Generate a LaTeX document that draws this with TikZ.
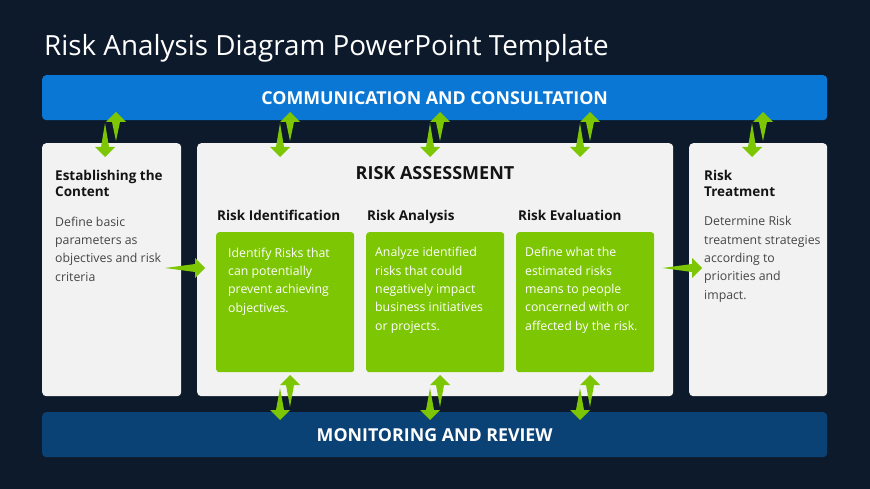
\documentclass[tikz,border=0pt]{standalone}
\usepackage{fontspec}
\setmainfont{Open Sans}
\usetikzlibrary{positioning, calc}

\definecolor{slidebg}{HTML}{0D1A2B}
\definecolor{commblue}{HTML}{0A77D5}
\definecolor{monblue}{HTML}{0A4275}
\definecolor{panelgray}{HTML}{F2F2F2}
\definecolor{riskgreen}{HTML}{7DC603}
\definecolor{headdark}{HTML}{141414}
\definecolor{bodygray}{HTML}{454545}

% tapered green arrow from tail (#1) to tip (#2)
\newcommand{\greenarrow}[2]{%
  \path ($(#2)!10pt!(#1)$) coordinate (hb);
  \fill[riskgreen] (#1) -- ($(hb)!4pt!90:(#2)$) -- ($(hb)!10pt!90:(#2)$) -- (#2)
    -- ($(hb)!10pt!-90:(#2)$) -- ($(hb)!4pt!-90:(#2)$) -- cycle;}

\tikzset{
  band/.style={rounded corners=4pt, anchor=north west, minimum width=785pt, minimum height=45pt,
    text=white, font=\bfseries\fontsize{17.8}{21}\selectfont},
  panel/.style={fill=panelgray, rounded corners=4pt, anchor=north west, minimum height=253pt},
  stepcard/.style={fill=riskgreen, rounded corners=3pt, anchor=north west, minimum width=138pt, minimum height=140pt},
  cardhead/.style={anchor=base west, inner sep=0, text=headdark, font=\bfseries\fontsize{13.5}{16.5}\selectfont},
  panelhead/.style={cardhead, align=left},
  bodytext/.style={anchor=base west, inner sep=0, align=left, text=bodygray, font=\fontsize{12.3}{18.3}\selectfont},
  cardtext/.style={bodytext, text=white},
}

\begin{document}
\begin{tikzpicture}[x=1pt,y=-1pt]
  \fill[slidebg] (0,0) rectangle (870,489);
  \useasboundingbox (0,0) rectangle (870,489);

  \node[anchor=base west, inner sep=0, text=white, font=\fontsize{27.8}{32}\selectfont] (title) at (44,56)
    {Risk Analysis Diagram PowerPoint Template};

  % bands
  \node[band, fill=commblue] (comm) at (42,75) {COMMUNICATION AND CONSULTATION};
  \node[band, fill=monblue] (mon) at (42,412) {MONITORING AND REVIEW};

  % panels
  \node[panel, minimum width=139pt] (estab) at (42,143) {};
  \node[panel, minimum width=476pt] (assess) at (197,143) {};
  \node[panel, minimum width=138pt] (treat) at (689,143) {};

  % (base of a multi-line node = its last line)
  \node[panelhead] (estabh) at (55,197) {Establishing the\\Content};
  \node[bodytext] (estabt) at (55,281) {Define basic\\parameters as\\objectives and risk\\criteria};
  \node[panelhead] (treath) at (704,197) {Risk\\Treatment};
  \node[bodytext] (treatt) at (704,299) {Determine Risk\\treatment strategies\\according to\\priorities and\\impact.};

  \node[anchor=base, inner sep=0, text=headdark, font=\bfseries\fontsize{18}{21}\selectfont] (assessh)
    at (435,180) {RISK ASSESSMENT};

  % green cards
  \node[stepcard] (ident) at (216,232) {};
  \node[stepcard] (analys) at (366,232) {};
  \node[stepcard] (evalu) at (516,232) {};

  \node[cardhead] (identh) at ($(ident.north west)+(1,-11)$) {Risk Identification};
  \node[cardhead] (analysh) at ($(analys.north west)+(1,-11)$) {Risk Analysis};
  \node[cardhead] (evaluh) at ($(evalu.north west)+(2,-11)$) {Risk Evaluation};

  \node[cardtext] (identt) at ($(ident.north west)+(12,80)$) {Identify Risks that\\can potentially\\prevent achieving\\objectives.};
  \node[cardtext] (analyst) at ($(analys.north west)+(9,98)$) {Analyze identified\\risks that could\\negatively impact\\business initiatives\\or projects.};
  \node[cardtext] (evalut) at ($(evalu.north west)+(9,98)$) {Define what the\\estimated risks\\means to people\\concerned with or\\affected by the risk.};

  % arrows to and from the bands
  \foreach \i/\xd/\xu in {1/105/116, 2/280/290, 3/430/440, 4/580/590, 5/752/763} {
    \coordinate (up\i s) at (\xu,141);
    \coordinate (up\i e) at (\xu,112);
    \coordinate (dn\i s) at (\xd,123);
    \coordinate (dn\i e) at (\xd,157);
    \greenarrow{up\i s}{up\i e}
    \greenarrow{dn\i s}{dn\i e}
  }
  \foreach \i/\xd/\xu in {6/280/290, 7/430/440, 8/580/590} {
    \coordinate (up\i s) at (\xu,407);
    \coordinate (up\i e) at (\xu,375);
    \coordinate (dn\i s) at (\xd,388);
    \coordinate (dn\i e) at (\xd,420);
    \greenarrow{up\i s}{up\i e}
    \greenarrow{dn\i s}{dn\i e}
  }
  \coordinate (ins) at (165,268);
  \coordinate (ine) at ($(ident.west |- ins)+(-11,0)$);
  \coordinate (outs) at ($(evalu.east |- ins)+(8,0)$);
  \coordinate (oute) at (702,268);
  \greenarrow{ins}{ine}
  \greenarrow{outs}{oute}
\end{tikzpicture}
\end{document}
